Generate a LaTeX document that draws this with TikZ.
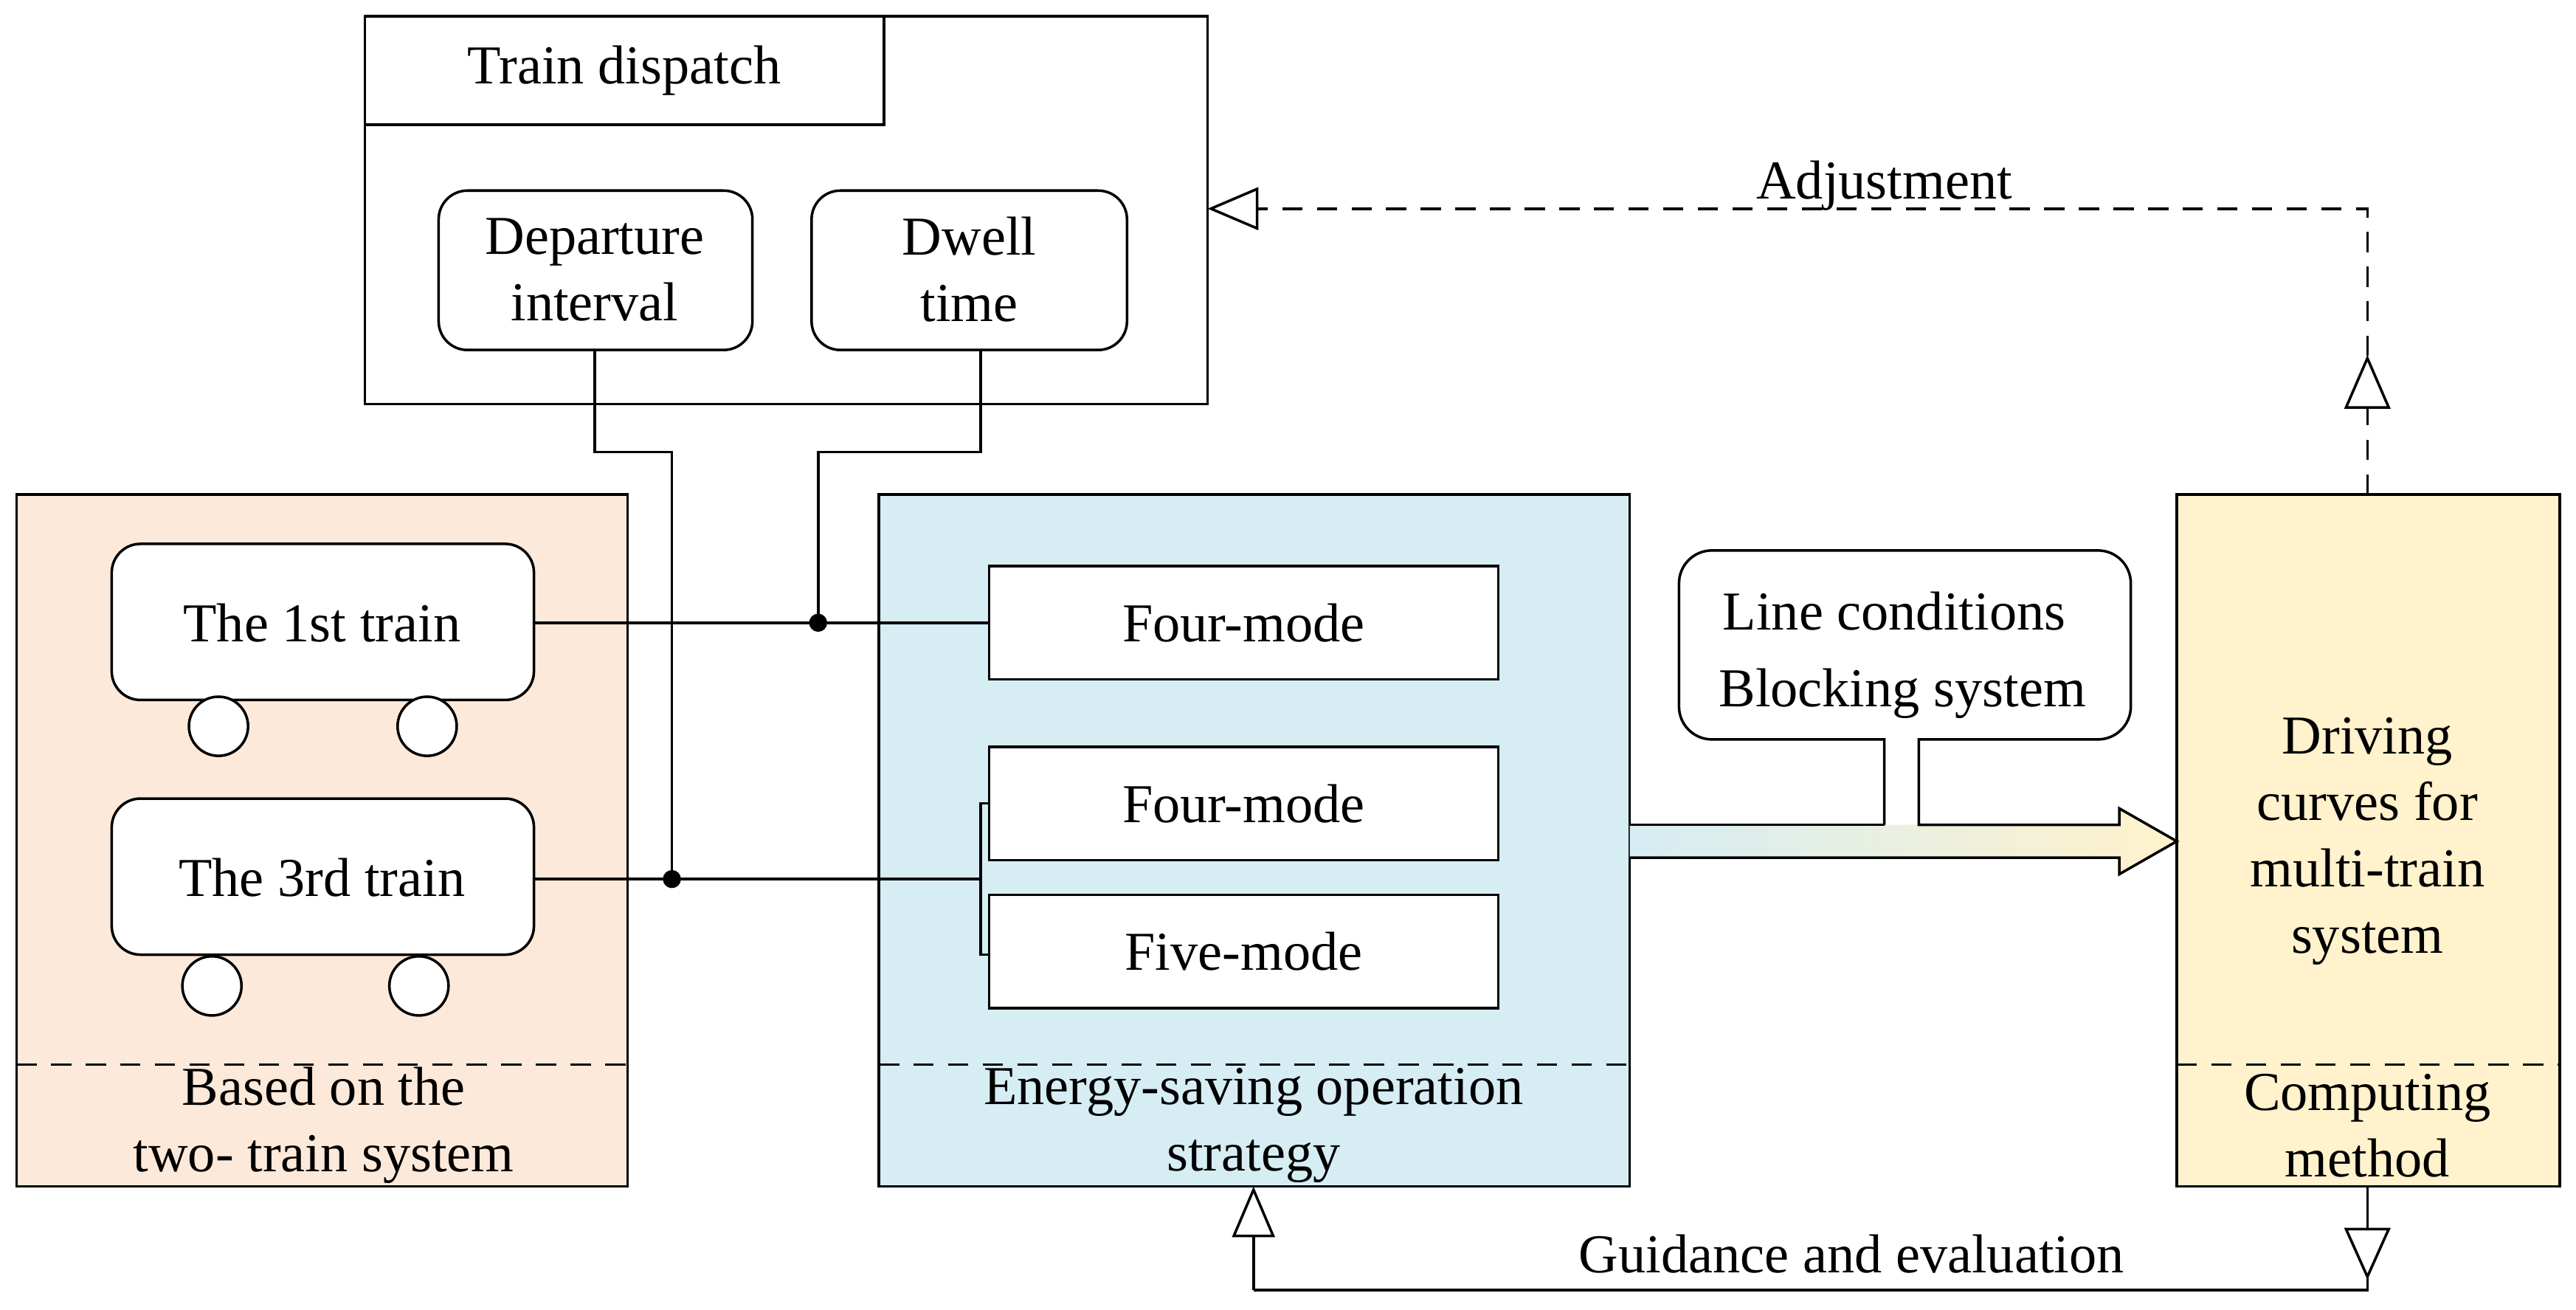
\documentclass[tikz,border=0pt]{standalone}
\usepackage{fontspec}
\setmainfont{Liberation Serif}
\usetikzlibrary{arrows.meta,decorations.markings}
\definecolor{peach}{RGB}{252,233,218}
\definecolor{lblue}{RGB}{214,237,244}
\definecolor{lyel}{RGB}{255,242,204}
\begin{document}
\begin{tikzpicture}[x=0.02cm,y=-0.02cm,line width=0.9pt,
  every node/.style={font=\fontsize{19}{23}\selectfont,align=center},
  box/.style={draw,fill=white,minimum width=310*0.02cm,minimum height=69*0.02cm},
  rbox/.style={draw,fill=white,rounded corners=0.35cm},
  ldash/.style={dash pattern=on 7pt off 5pt},
  tri/.style={-{Triangle[open,length=0.62cm,width=0.52cm]}},
  dot/.style={circle,fill,inner sep=0pt,minimum size=0.22cm}]
\useasboundingbox (0,0) rectangle (1568,797);
% left
\draw[fill=peach] (10,301) rectangle (382,722);
\draw[ldash] (10,648) -- (382,648);
\node at (197,685) {Based on the\\two- train system};
\draw[rbox] (68,331) rectangle (325,426); \node (t1) at (196,379) {The 1st train};
\draw[fill=white] (133,442) circle (18) (260,442) circle (18);
\draw[rbox] (68,486) rectangle (325,581); \node (t3) at (196,534) {The 3rd train};
\draw[fill=white] (129,600) circle (18) (255,600) circle (18);
% blue
\draw[fill=lblue] (535,301) rectangle (992,722);
\draw[ldash] (535,648) -- (992,648);
\node at (763,685) {Energy-saving operation\\strategy};
\node[box] (f1) at (757,379) {Four-mode};
\node[box] (f2) at (757,489) {Four-mode};
\node[box] (f3) at (757,579) {Five-mode};
% yellow
\draw[fill=lyel] (1325,301) rectangle (1558,722);
\draw[ldash] (1325,648) -- (1558,648);
\node at (1441,512) {Driving\\curves for\\multi-train\\system};
\node at (1441,685) {Computing\\method};
% dispatch
\draw (222,10) rectangle (735,246);
\draw (222,76) -- (538,76) -- (538,10);
\node at (380,43) {Train dispatch};
\draw[rbox] (267,116) rectangle (458,213); \node (dep) at (362,164) {Departure\\interval};
\draw[rbox] (494,116) rectangle (686,213); \node (dw) at (590,164) {Dwell\\time};
% connectors
\draw (362,213) -- (362,275) -- (409,275) -- (409,535);
\draw (597,213) -- (597,275) -- (498,275) -- (498,379);
\draw (325,379) -- (602,379);
\draw (325,535) -- (597,535);
\draw (602,489) -- (597,489) -- (597,581) -- (602,581);
\node[dot] at (498,379) {}; \node[dot] at (409,535) {};
% big arrow + callout
\shade[left color=lblue,right color=lyel] (992,502) -- (1290,502) -- (1290,492) -- (1325,512) -- (1290,532) -- (1290,522) -- (992,522) -- cycle;
\fill[white,rounded corners=0.4cm] (1022,335) rectangle (1297,450);
\draw (1147,502) -- (1147,450) {[rounded corners=0.4cm] -- (1022,450) -- (1022,335) -- (1297,335) -- (1297,450)} -- (1168,450) -- (1168,502) -- (1290,502) -- (1290,492) -- (1325,512) -- (1290,532) -- (1290,522) -- (992,522);
\draw (992,502) -- (1147,502);
\node at (1153,372) {Line conditions};
\node at (1158,422) {Blocking system};
% adjustment
\draw[ldash,tri] (1441,301) -- (1441,127) -- (735,127);
\draw[fill=white] (1428,248) -- (1454,248) -- (1441,218) -- cycle;
\node at (1147,113) {Adjustment};
% guidance
\draw[tri] (763,785) -- (763,722);
\draw (763,785) -- (1441,785) -- (1441,722);
\draw[fill=white] (1428,748) -- (1454,748) -- (1441,777) -- cycle;
\node at (1127,763) {Guidance and evaluation};
\end{tikzpicture}
\end{document}
